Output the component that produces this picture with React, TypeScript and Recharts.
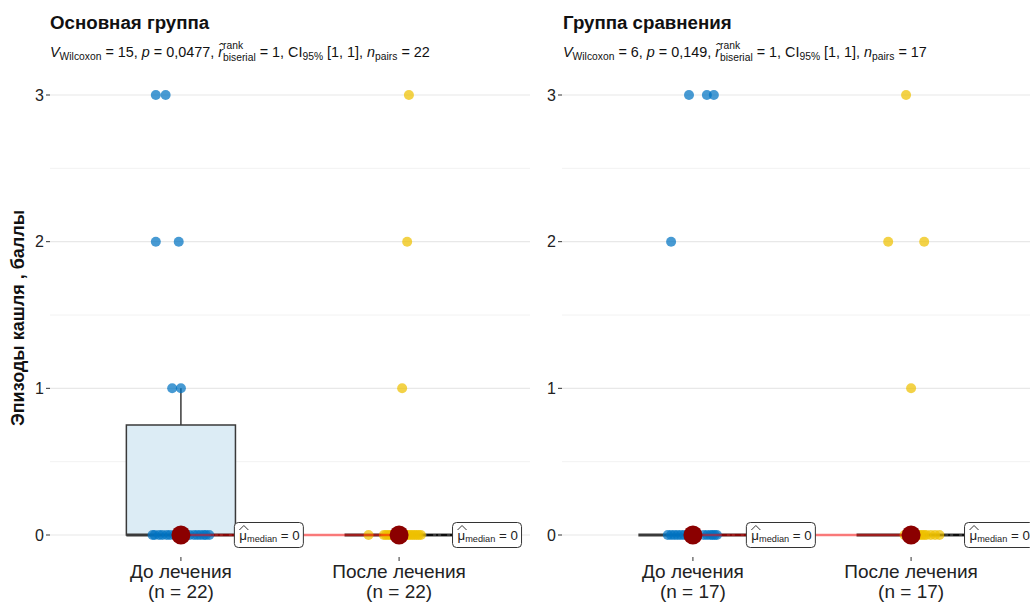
import React from 'react';
import {
  ComposedChart,
  XAxis,
  YAxis,
  CartesianGrid,
  Scatter,
  ReferenceArea,
  ReferenceLine,
  ReferenceDot,
} from 'recharts';

const FONT = '"Liberation Sans", Arial, Helvetica, sans-serif';

// ---------- data ----------
const categories = ['До лечения', 'После лечения'];
const yTicks = [0, 1, 2, 3];
const yMinorTicks = [0.5, 1.5, 2.5];
const yAxisTitle = 'Эпизоды кашля , баллы';

// Основная группа
const mainTitle = 'Основная группа';
const mainN = 22;
const mainStats = { V: '15', p: '0,0477', r: '1', ci: '[1, 1]' };
const mainBeforeValues = [3, 3, 2, 2, 1, 1, 0, 0, 0, 0, 0, 0, 0, 0, 0, 0, 0, 0, 0, 0, 0, 0];
const mainBeforeJitter = [-0.115, -0.07, -0.115, -0.01, -0.04, 0.0, -0.13, -0.12, -0.1, -0.085, -0.065, -0.05, -0.03, -0.01, 0.02, 0.04, 0.06, 0.075, 0.09, 0.105, 0.115, 0.13];
const mainAfterValues = [3, 2, 1, 0, 0, 0, 0, 0, 0, 0, 0, 0, 0, 0, 0, 0, 0, 0, 0, 0, 0, 0];
const mainAfterJitter = [0.045, 0.037, 0.014, -0.14, -0.07, -0.06, -0.05, -0.04, -0.03, -0.02, -0.01, 0.0, 0.01, 0.02, 0.03, 0.04, 0.05, 0.06, 0.07, 0.08, 0.09, 0.1];

// Группа сравнения
const compTitle = 'Группа сравнения';
const compN = 17;
const compStats = { V: '6', p: '0,149', r: '1', ci: '[1, 1]' };
const compBeforeValues = [3, 3, 3, 2, 0, 0, 0, 0, 0, 0, 0, 0, 0, 0, 0, 0, 0];
const compBeforeJitter = [-0.018, 0.064, 0.096, -0.1, -0.115, -0.1, -0.085, -0.07, -0.055, -0.04, -0.025, 0.05, 0.065, 0.08, 0.09, 0.1, 0.11];
const compAfterValues = [3, 2, 2, 1, 0, 0, 0, 0, 0, 0, 0, 0, 0, 0, 0, 0, 0];
const compAfterJitter = [-0.023, -0.105, 0.06, 0.0, -0.03, -0.01, 0.0, 0.01, 0.02, 0.03, 0.04, 0.05, 0.06, 0.07, 0.09, 0.11, 0.13];

// ---------- helpers ----------
const quantile = (vals: number[], q: number) => {
  const s = [...vals].sort((a, b) => a - b);
  const h = (s.length - 1) * q;
  const lo = Math.floor(h);
  const hi = Math.ceil(h);
  return s[lo] + (h - lo) * (s[hi] - s[lo]);
};

const boxStats = (vals: number[]) => {
  const q1 = quantile(vals, 0.25);
  const med = quantile(vals, 0.5);
  const q3 = quantile(vals, 0.75);
  const iqr = q3 - q1;
  const hiW = Math.max(...vals.filter((v) => v <= q3 + 1.5 * iqr));
  const loW = Math.min(...vals.filter((v) => v >= q1 - 1.5 * iqr));
  return { q1, med, q3, hiW, loW };
};

const BLUE = 'rgba(0,115,194,0.72)';
const YELLOW = 'rgba(239,192,0,0.72)';
const BOX_STROKE = '#3a3a3a';
const BOX_HALF = 0.25;
const LABEL_OFFSET = 0.245;

const MedianLabel = (props: any) => {
  const { cx, cy } = props;
  const w = 69;
  const h = 25;
  const tx = cx + 5;
  return (
    <g>
      <rect x={cx} y={cy - h / 2} width={w} height={h} rx={4} ry={4} fill="#fff" stroke="#333" strokeWidth={1} />
      <path d={`M ${tx} ${cy - 5} L ${tx + 4.5} ${cy - 9.5} L ${tx + 9} ${cy - 5}`} fill="none" stroke="#333" strokeWidth={1} />
      <text x={tx} y={cy + 5} fontSize={13.3} fill="#222" fontFamily={FONT}>
        <tspan>μ</tspan>
        <tspan fontSize={9.2} dy={2}>median</tspan>
        <tspan dy={-2}> = 0</tspan>
      </text>
    </g>
  );
};

const makeTick = (n: number) => (props: any) => {
  const { x, y, payload } = props;
  const idx = Math.round(payload.value) - 1;
  return (
    <text x={x} y={y} textAnchor="middle" fontSize={19} fill="#222" fontFamily={FONT}>
      <tspan x={x} dy={15}>{categories[idx]}</tspan>
      <tspan x={x} dy={20}>{`(n = ${n})`}</tspan>
    </text>
  );
};

type PanelProps = {
  left: number;
  n: number;
  before: number[];
  beforeJ: number[];
  after: number[];
  afterJ: number[];
};

const Panel = ({ left, n, before, beforeJ, after, afterJ }: PanelProps) => {
  const groups = [
    { c: 1, vals: before, j: beforeJ, color: BLUE, fill: '#dcecf5' },
    { c: 2, vals: after, j: afterJ, color: YELLOW, fill: '#fbf3d6' },
  ].map((g) => ({ ...g, stats: boxStats(g.vals) }));
  const medians = groups.map((g) => ({ x: g.c, y: g.stats.med }));

  return (
    <div style={{ position: 'absolute', left, top: 0 }}>
      <ComposedChart width={540} height={603} margin={{ top: 73, right: 10, bottom: 0, left: 0 }}>
        <XAxis
          type="number"
          dataKey="x"
          domain={[0.4, 2.6]}
          ticks={[1, 2]}
          interval={0}
          allowDataOverflow
          height={46}
          axisLine={false}
          tickLine={{ stroke: '#333' }}
          tickSize={4}
          tick={makeTick(n)}
        />
        <YAxis
          type="number"
          dataKey="y"
          domain={[-0.15, 3.15]}
          ticks={yTicks}
          interval={0}
          allowDataOverflow
          width={50}
          axisLine={false}
          tickLine={{ stroke: '#333' }}
          tickSize={4}
          tick={{ fontSize: 16, fill: '#222', fontFamily: FONT }}
        />
        <CartesianGrid vertical={false} horizontalValues={yMinorTicks} stroke="#f2f2f2" strokeWidth={1} />
        <CartesianGrid vertical={false} horizontalValues={yTicks} stroke="#e8e8e8" strokeWidth={1.2} />

        {groups.map((g) =>
          g.stats.q3 > g.stats.q1 ? (
            <ReferenceArea
              key={`box${g.c}`}
              x1={g.c - BOX_HALF}
              x2={g.c + BOX_HALF}
              y1={g.stats.q1}
              y2={g.stats.q3}
              fill={g.fill}
              fillOpacity={1}
              stroke={BOX_STROKE}
              strokeWidth={1.5}
            />
          ) : null
        )}
        {groups.map((g) =>
          g.stats.hiW > g.stats.q3 ? (
            <ReferenceLine
              key={`wh${g.c}`}
              segment={[
                { x: g.c, y: g.stats.q3 },
                { x: g.c, y: g.stats.hiW },
              ]}
              stroke={BOX_STROKE}
              strokeWidth={1.5}
            />
          ) : null
        )}
        {groups.map((g) => (
          <ReferenceLine
            key={`med${g.c}`}
            segment={[
              { x: g.c - BOX_HALF, y: g.stats.med },
              { x: g.c + BOX_HALF, y: g.stats.med },
            ]}
            stroke={BOX_STROKE}
            strokeWidth={3}
          />
        ))}

        {groups.map((g) => (
          <Scatter
            key={`pts${g.c}`}
            data={g.vals.map((v, i) => ({ x: g.c + g.j[i], y: v }))}
            fill={g.color}
            shape={(p: any) => <circle cx={p.cx} cy={p.cy} r={5} fill={g.color} />}
            isAnimationActive={false}
          />
        ))}

        <Scatter
          data={medians}
          line={{ stroke: 'rgba(255,0,0,0.5)', strokeWidth: 2.5 }}
          shape={(p: any) => <circle cx={p.cx} cy={p.cy} r={9.5} fill="#8b0000" />}
          isAnimationActive={false}
        />

        {groups.map((g) => (
          <ReferenceLine
            key={`seg${g.c}`}
            segment={[
              { x: g.c, y: g.stats.med },
              { x: g.c + LABEL_OFFSET, y: g.stats.med },
            ]}
            stroke="#000"
            strokeWidth={1.3}
            strokeDasharray="6 3 2 3"
          />
        ))}
        {groups.map((g) => (
          <ReferenceDot
            key={`lab${g.c}`}
            x={g.c + LABEL_OFFSET}
            y={g.stats.med}
            r={1}
            shape={MedianLabel}
            ifOverflow="visible"
          />
        ))}
      </ComposedChart>
    </div>
  );
};

const Subtitle = ({ left, stats, n }: { left: number; stats: any; n: number }) => {
  const sub: React.CSSProperties = { fontSize: 10.3, position: 'relative', top: 3 };
  return (
    <div
      style={{
        position: 'absolute',
        left,
        top: 44,
        fontSize: 14.4,
        fontFamily: FONT,
        whiteSpace: 'nowrap',
        lineHeight: '16px',
        color: '#111',
      }}
    >
      <i>V</i>
      <span style={sub}>Wilcoxon</span> = {stats.V}, <i>p</i> = {stats.p},{' '}
      <i>r&#770;</i>
      <span style={{ position: 'relative', fontSize: 10.3 }}>
        <span style={{ position: 'absolute', left: 0, top: -10 }}>rank</span>
        <span style={{ position: 'relative', top: 4 }}>biserial</span>
      </span>{' '}
      = {stats.r}, CI<span style={sub}>95%</span> {stats.ci}, <i>n</i>
      <span style={sub}>pairs</span> = {n}
    </div>
  );
};

export default function App() {
  return (
    <div
      style={{
        position: 'absolute',
        left: 0,
        top: 0,
        width: 1030,
        height: 603,
        overflow: 'hidden',
        background: '#fff',
      }}
    >
      <Panel left={0} n={mainN} before={mainBeforeValues} beforeJ={mainBeforeJitter} after={mainAfterValues} afterJ={mainAfterJitter} />
      <Panel left={512} n={compN} before={compBeforeValues} beforeJ={compBeforeJitter} after={compAfterValues} afterJ={compAfterJitter} />
      <svg width={1030} height={603} style={{ position: 'absolute', left: 0, top: 0, pointerEvents: 'none' }}>
        <text x={50} y={29} fontSize={18.7} fontWeight="bold" fontFamily={FONT} fill="#111">
          {mainTitle}
        </text>
        <text x={563} y={29} fontSize={18.7} fontWeight="bold" fontFamily={FONT} fill="#111">
          {compTitle}
        </text>
        <text
          x={24}
          y={318}
          fontSize={18}
          fontWeight="bold"
          fontFamily={FONT}
          fill="#111"
          textAnchor="middle"
          transform="rotate(-90 24 318)"
        >
          {yAxisTitle}
        </text>
      </svg>
      <Subtitle left={50} stats={mainStats} n={mainN} />
      <Subtitle left={563} stats={compStats} n={compN} />
    </div>
  );
}
